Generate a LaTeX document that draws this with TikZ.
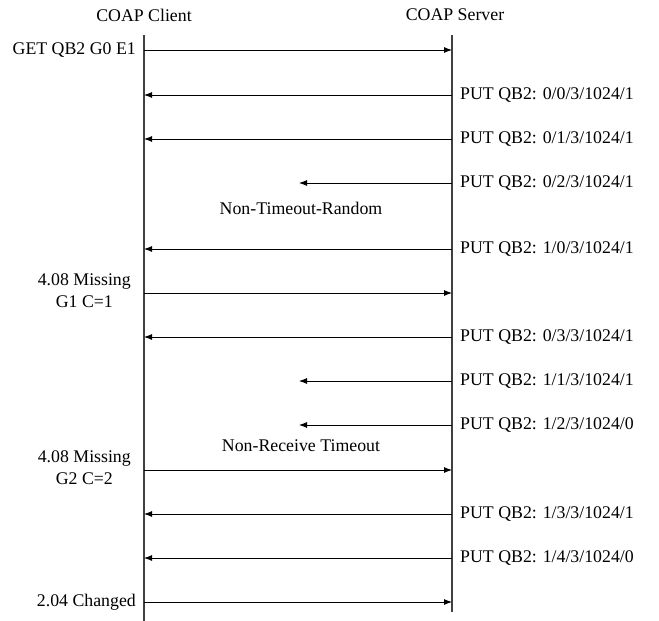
\documentclass[tikz,border=0pt]{standalone}
\usepackage{fontspec}
\setmainfont{Liberation Serif}
\usetikzlibrary{arrows.meta}
\begin{document}
\begin{tikzpicture}[x=1pt,y=-1pt,
  txt/.style={font=\fontsize{17.8}{22}\selectfont, inner sep=0pt},
  life/.style={line width=1.1pt, draw=black!75},
  msg/.style={line width=0.9pt, -{Latex[length=8pt,width=6pt]}},
  lbl/.style={txt, anchor=west},
  clbl/.style={txt, anchor=east, align=center}]
\useasboundingbox (0,0) rectangle (659,621);
% headers
\node[txt] (hc) at (144,15) {COAP Client};
\node[txt] (hs) at (455,15) {COAP Server};
% lifelines
\coordinate (ctop) at (144,35); \coordinate (cbot) at (144,621);
\coordinate (stop) at (452,35); \coordinate (sbot) at (452,612);
\draw[life] (ctop) -- (cbot);
\draw[life] (stop) -- (sbot);
% message endpoints
\foreach \n/\y in {1/50,2/95,3/139,4/183,5/249,6/293,7/337,8/381,9/425,10/470,11/514,12/558,13/602}{
  \coordinate (c\n) at (144,\y);
  \coordinate (s\n) at (452,\y);
  \coordinate (m\n) at (299,\y);
}
% messages
\draw[msg] (c1) -- (s1);
\draw[msg] (s2) -- (c2);
\draw[msg] (s3) -- (c3);
\draw[msg] (s4) -- (m4);
\draw[msg] (s5) -- (c5);
\draw[msg] (c6) -- (s6);
\draw[msg] (s7) -- (c7);
\draw[msg] (s8) -- (m8);
\draw[msg] (s9) -- (m9);
\draw[msg] (c10) -- (s10);
\draw[msg] (s11) -- (c11);
\draw[msg] (s12) -- (c12);
\draw[msg] (c13) -- (s13);
% client labels
\node[clbl] (l1) at (136,50) {GET QB2 G0 E1};
\node[clbl] (l6) at (131,291) {4.08 Missing\\G1 C=1};
\node[clbl] (l10) at (131,468) {4.08 Missing\\G2 C=2};
\node[clbl] (l13) at (136,602) {2.04 Changed};
% server labels
\node[lbl] (p2) at (460,95) {PUT QB2: 0/0/3/1024/1};
\node[lbl] (p3) at (460,139) {PUT QB2: 0/1/3/1024/1};
\node[lbl] (p4) at (460,183) {PUT QB2: 0/2/3/1024/1};
\node[lbl] (p5) at (460,249) {PUT QB2: 1/0/3/1024/1};
\node[lbl] (p7) at (460,337) {PUT QB2: 0/3/3/1024/1};
\node[lbl] (p8) at (460,381) {PUT QB2: 1/1/3/1024/1};
\node[lbl] (p9) at (460,425) {PUT QB2: 1/2/3/1024/0};
\node[lbl] (p11) at (460,514) {PUT QB2: 1/3/3/1024/1};
\node[lbl] (p12) at (460,558) {PUT QB2: 1/4/3/1024/0};
% middle notes
\node[txt] (n1) at (301,208) {Non-Timeout-Random};
\node[txt] (n2) at (301,446) {Non-Receive Timeout};
\end{tikzpicture}
\end{document}
